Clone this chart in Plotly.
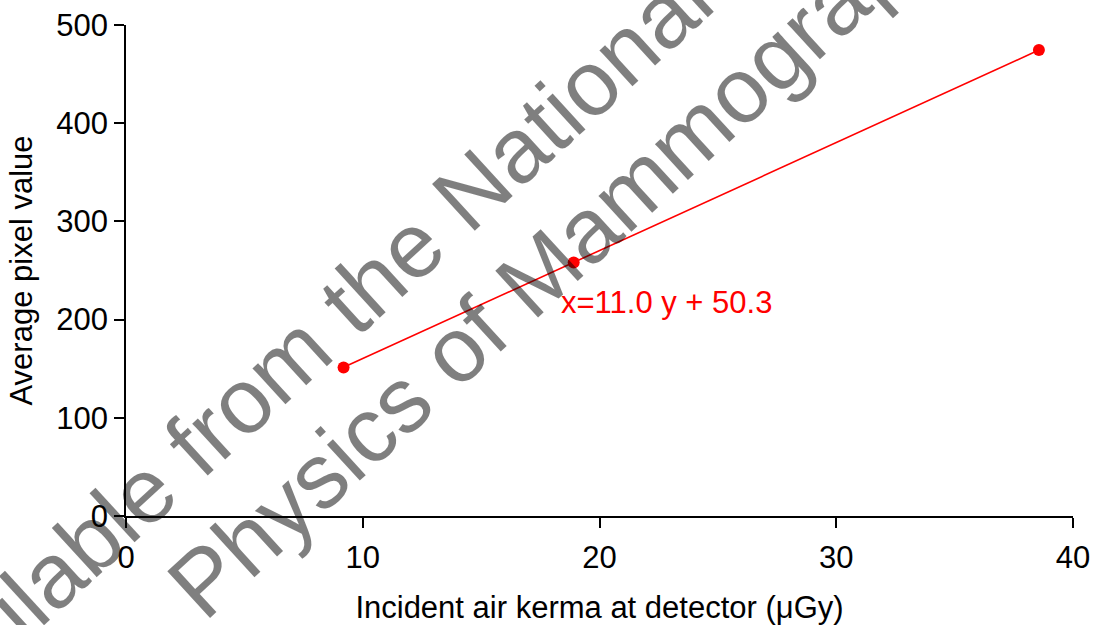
import plotly.graph_objects as go

# Measured detector response
air_kerma = [9.19, 18.91, 38.56]          # µGy
pixel_value = [151.3, 258.1, 474.5]       # average pixel value

# Linear fit shown on the chart
slope = 11.0
intercept = 50.3
fit_label = "x=11.0 y + 50.3"

x_ticks = [0, 10, 20, 30, 40]
y_ticks = [0, 100, 200, 300, 400, 500]

watermark_lines = ["Available from the National", "Physics of Mammography"]

FONT = "Liberation Sans, Arial, sans-serif"
SIZE = 31

fit_y = [slope * x + intercept for x in air_kerma]

fig = go.Figure()
fig.add_trace(go.Scatter(
    x=[air_kerma[0], air_kerma[-1]], y=[fit_y[0], fit_y[-1]],
    mode="lines", line=dict(color="#ff0000", width=1.6),
    hoverinfo="skip", showlegend=False,
))
fig.add_trace(go.Scatter(
    x=air_kerma, y=pixel_value, mode="markers",
    marker=dict(color="#ff0000", size=12, line=dict(width=0)),
    showlegend=False,
))

fig.add_annotation(
    x=18.27, y=217.7, xref="x", yref="y", text=fit_label, showarrow=False,
    xanchor="left", yanchor="middle",
    font=dict(family=FONT, size=SIZE, color="#ff0000"),
)

# Diagonal watermark over the plot
for text, (px, py) in zip(watermark_lines, [(0.175, 0.328), (0.472, 0.558)]):
    fig.add_annotation(
        x=px, y=py, xref="paper", yref="paper", text=text, showarrow=False,
        xanchor="center", yanchor="middle", textangle=-42.5,
        font=dict(family=FONT, size=92, color="rgba(0,0,0,0.5)"),
    )

axis_common = dict(
    showline=True, linecolor="black", linewidth=1.5,
    ticks="outside", ticklen=10, tickwidth=1.5, tickcolor="black",
    showgrid=False, zeroline=False,
    tickfont=dict(family=FONT, size=SIZE, color="black"),
    automargin=False,
)

fig.update_xaxes(
    range=[0, 40], tickvals=x_ticks, ticktext=[str(v) for v in x_ticks],
    ticklabelstandoff=3,
    title=dict(text="Incident air kerma at detector (μGy)",
               font=dict(family=FONT, size=SIZE, color="black"), standoff=24),
    **axis_common,
)
fig.update_yaxes(
    range=[0, 500], tickvals=y_ticks, ticktext=[str(v) for v in y_ticks],
    title=dict(text="Average pixel value",
               font=dict(family=FONT, size=SIZE, color="black"), standoff=14),
    **axis_common,
)

fig.update_layout(
    width=1093, height=625,
    margin=dict(l=126, r=20, t=25, b=109),
    paper_bgcolor="white", plot_bgcolor="white",
    showlegend=False,
)

fig.write_html("out.html")
